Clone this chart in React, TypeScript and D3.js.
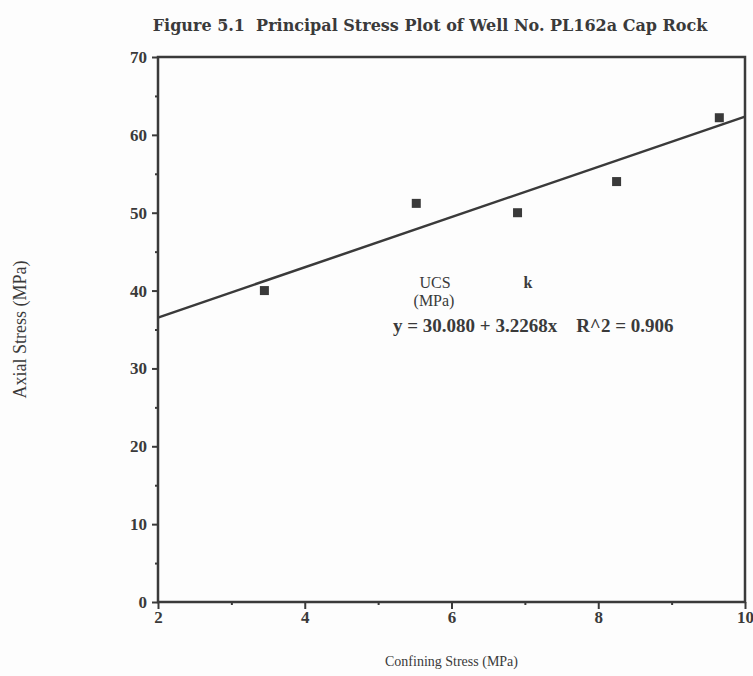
import { useEffect, useRef } from "react";
import * as d3 from "d3";

// readings
const confining = [3.45, 5.52, 6.9, 8.25, 9.65];
const axial = [40.0, 51.2, 50.0, 54.0, 62.2];
const xTicks = [2, 4, 6, 8, 10];
const yTicks = [0, 10, 20, 30, 40, 50, 60, 70];
const fitIntercept = 30.08;
const fitSlope = 3.2268;

export default function App() {
    const svgRef = useRef<SVGSVGElement>(null);

    useEffect(() => {
        const width = 753,
            height = 676;
        const margin = { top: 57, right: 8, bottom: 74, left: 158 };
        const ink = "#3a3a3a";
        const serif = "'Liberation Serif', serif";

        const svg = d3.select(svgRef.current);
        svg.selectAll("*").remove();
        svg.attr("width", width).attr("height", height);

        const x = d3.scaleLinear().domain([2, 10]).range([margin.left, width - margin.right]);
        const y = d3.scaleLinear().domain([0, 70]).range([height - margin.bottom, margin.top]);

        svg.append("rect").attr("width", width).attr("height", height).attr("fill", "#fdfdfd");

        // title
        svg.append("text")
            .attr("x", 430)
            .attr("y", 31)
            .attr("text-anchor", "middle")
            .attr("font-family", "'DejaVu Serif', serif")
            .attr("font-weight", "bold")
            .attr("font-size", 16)
            .attr("fill", ink)
            .attr("xml:space", "preserve")
            .text("Figure 5.1  Principal Stress Plot of Well No. PL162a Cap Rock");

        // frame
        svg.append("rect")
            .attr("x", x(2))
            .attr("y", y(70))
            .attr("width", x(10) - x(2))
            .attr("height", y(0) - y(70))
            .attr("fill", "none")
            .attr("stroke", ink)
            .attr("stroke-width", 2.5);

        // y axis
        const yAxis = svg.append("g")
            .attr("transform", `translate(${x(2)},0)`)
            .call(d3.axisLeft(y).tickValues(yTicks).tickSize(6).tickPadding(5));
        svg.append("g")
            .attr("transform", `translate(${x(2)},0)`)
            .call(d3.axisLeft(y).tickValues(d3.range(5, 70, 10)).tickSize(3).tickFormat(() => ""));

        // x axis
        const xAxis = svg.append("g")
            .attr("transform", `translate(0,${y(0)})`)
            .call(d3.axisBottom(x).tickValues(xTicks).tickSize(7).tickPadding(2));
        svg.append("g")
            .attr("transform", `translate(0,${y(0)})`)
            .call(d3.axisBottom(x).tickValues([3, 5, 7, 9]).tickSize(3).tickFormat(() => ""));

        svg.selectAll(".domain").remove();
        svg.selectAll(".tick line").attr("stroke", ink).attr("stroke-width", 2);
        [yAxis, xAxis].forEach((g) =>
            g.selectAll("text")
                .attr("font-family", serif)
                .attr("font-weight", "bold")
                .attr("font-size", 17)
                .attr("fill", ink)
        );

        // axis titles
        svg.append("text")
            .attr("transform", `translate(26,${(y(0) + y(70)) / 2}) rotate(-90)`)
            .attr("text-anchor", "middle")
            .attr("font-family", serif)
            .attr("font-size", 18)
            .attr("fill", ink)
            .text("Axial Stress (MPa)");
        svg.append("text")
            .attr("x", (x(2) + x(10)) / 2)
            .attr("y", 666)
            .attr("text-anchor", "middle")
            .attr("font-family", serif)
            .attr("font-size", 14)
            .attr("fill", ink)
            .text("Confining Stress (MPa)");

        // regression line
        const line = d3.line<number>()
            .x((d) => x(d))
            .y((d) => y(fitIntercept + fitSlope * d));
        svg.append("path")
            .attr("d", line([2, 10]))
            .attr("fill", "none")
            .attr("stroke", ink)
            .attr("stroke-width", 2.5);

        // points
        svg.append("g")
            .selectAll("rect")
            .data(confining)
            .enter()
            .append("rect")
            .attr("x", (d) => x(d) - 4.5)
            .attr("y", (d, i) => y(axial[i]) - 4.5)
            .attr("width", 9)
            .attr("height", 9)
            .attr("fill", ink);

        // annotation
        const note = svg.append("g")
            .attr("font-family", serif)
            .attr("font-size", 16)
            .attr("fill", ink);
        note.append("text").attr("x", 435).attr("y", 288).attr("text-anchor", "middle").text("UCS");
        note.append("text").attr("x", 434).attr("y", 306).attr("text-anchor", "middle").text("(MPa)");
        note.append("text").attr("x", 528).attr("y", 288).attr("text-anchor", "middle").attr("font-weight", "bold").text("k");
        note.append("text")
            .attr("x", 393)
            .attr("y", 332)
            .attr("font-size", 19)
            .attr("font-weight", "bold")
            .attr("xml:space", "preserve")
            .text("y = 30.080 + 3.2268x    R^2 = 0.906");
    }, []);

    return <svg ref={svgRef} style={{ position: "absolute", left: 0, top: 0 }} />;
}
